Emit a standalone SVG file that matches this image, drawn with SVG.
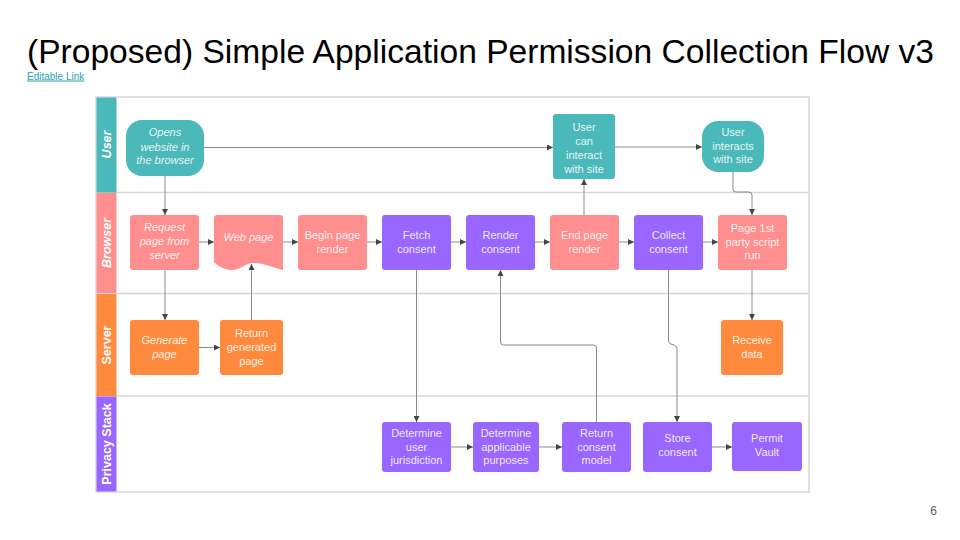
<svg xmlns="http://www.w3.org/2000/svg" width="960" height="540" viewBox="0 0 960 540">
<defs>
<marker id="arr" markerUnits="userSpaceOnUse" markerWidth="7" markerHeight="6" refX="6" refY="3" orient="auto">
<path d="M0,0 L6,3 L0,6 z" fill="#444"/>
</marker>
<style>
.t{font-family:"Liberation Sans",Arial,sans-serif;}
.nt{font-family:"Liberation Sans",Arial,sans-serif;font-size:11px;fill:#ffffff;fill-opacity:0.88;text-anchor:middle;}
.it{font-style:italic;}
.lh{font-family:"Liberation Sans",Arial,sans-serif;font-size:12.5px;font-weight:bold;fill:#ffffff;text-anchor:middle;}
.teal{fill:#4bb9b9;}
.pink{fill:#ff8f8f;}
.orange{fill:#ff8a3d;}
.purple{fill:#9966ff;}
.sep{stroke:#d6d6d6;stroke-width:1.5;fill:none;}
.c{stroke:#8c8c8c;stroke-width:1;fill:none;marker-end:url(#arr);}
</style>
</defs>
<rect width="960" height="540" fill="#ffffff"/>
<text class="t" x="27" y="63" font-size="33.6" fill="#000000">(Proposed) Simple Application Permission Collection Flow v3</text>
<text class="t" x="27" y="79.5" font-size="10" fill="#26a1b5" text-decoration="underline">Editable Link</text>
<text class="t" x="937" y="514.5" font-size="12" fill="#595959" text-anchor="end">6</text>

<g id="lanes">
<rect x="96" y="97" width="713" height="395" fill="none" stroke="#d6d6d6" stroke-width="1.5"/>
<line class="sep" x1="96" y1="192.5" x2="809" y2="192.5"/>
<line class="sep" x1="96" y1="293.5" x2="809" y2="293.5"/>
<line class="sep" x1="96" y1="396" x2="809" y2="396"/>
<g id="lane-user"><rect class="teal" x="96.5" y="97.5" width="20" height="95"/><text class="lh it" transform="translate(110.5,144.5) rotate(-90)">User</text></g>
<g id="lane-browser"><rect class="pink" x="96.5" y="193" width="20" height="100"/><text class="lh it" transform="translate(110.5,243) rotate(-90)">Browser</text></g>
<g id="lane-server"><rect class="orange" x="96.5" y="294" width="20" height="102"/><text class="lh" transform="translate(110.5,345) rotate(-90)">Server</text></g>
<g id="lane-privacy"><rect class="purple" x="96.5" y="396.5" width="20" height="95"/><text class="lh" transform="translate(110.5,444) rotate(-90)">Privacy Stack</text></g>
</g>

<g id="connectors">
<path class="c" d="M204,147.5 H553"/>
<path class="c" d="M615,147 H702"/>
<path class="c" d="M165,176 V215"/>
<path class="c" d="M199,242 H214"/>
<path class="c" d="M283,242 H298"/>
<path class="c" d="M367,242 H382"/>
<path class="c" d="M451,242 H466"/>
<path class="c" d="M535,242 H550"/>
<path class="c" d="M584,215 V179"/>
<path class="c" d="M619,242 H634"/>
<path class="c" d="M703,242 H718"/>
<path class="c" d="M733,172 V189 Q733,192 736,192 H749 Q752,192 752,195 V215"/>
<path class="c" d="M165,270 V320"/>
<path class="c" d="M199,347.5 H220"/>
<path class="c" d="M251.5,320 V264"/>
<path class="c" d="M416.5,270 V422"/>
<path class="c" d="M451,447 H473"/>
<path class="c" d="M539,447 H562"/>
<path class="c" d="M596.5,422 V348 Q596.5,345 593.5,345 H503.5 Q500.5,345 500.5,342 V270"/>
<path class="c" d="M668.5,270 V340 Q668.5,344 672,344.5 Q677,345 677,349 V422"/>
<path class="c" d="M712,447 H732"/>
<path class="c" d="M752,270 V320"/>
</g>

<g id="n-opens"><rect class="teal" x="126" y="120" width="78" height="56" rx="16"/>
<text class="nt it"><tspan x="165" y="136">Opens</tspan><tspan x="165" y="150.5">website in</tspan><tspan x="165" y="164">the browser</tspan></text></g>
<g id="n-user-can"><rect class="teal" x="553" y="114" width="62" height="65" rx="3"/>
<text class="nt"><tspan x="584" y="131">User</tspan><tspan x="584" y="145">can</tspan><tspan x="584" y="159">interact</tspan><tspan x="584" y="172.5">with site</tspan></text></g>
<g id="n-user-interacts"><rect class="teal" x="702" y="121" width="62" height="51" rx="16"/>
<text class="nt"><tspan x="733" y="135.5">User</tspan><tspan x="733" y="149.5">interacts</tspan><tspan x="733" y="163">with site</tspan></text></g>

<g id="n-request"><rect class="pink" x="130" y="215" width="69" height="55" rx="3"/>
<text class="nt it"><tspan x="164.5" y="231">Request</tspan><tspan x="164.5" y="245">page from</tspan><tspan x="164.5" y="259">server</tspan></text></g>
<g id="n-webpage"><path class="pink" d="M214,218 Q214,215 217,215 H280 Q283,215 283,218 V270 C274,268 264,263 254,263 C248,263 246,265 240,268 C232,272 222,270 214,262 Z"/>
<text class="nt it" x="248.5" y="241">Web page</text></g>
<g id="n-begin"><rect class="pink" x="298" y="215" width="69" height="55" rx="3"/>
<text class="nt"><tspan x="332.5" y="239">Begin page</tspan><tspan x="332.5" y="253">render</tspan></text></g>
<g id="n-fetch"><rect class="purple" x="382" y="215" width="69" height="55" rx="3"/>
<text class="nt"><tspan x="416.5" y="239">Fetch</tspan><tspan x="416.5" y="253">consent</tspan></text></g>
<g id="n-render"><rect class="purple" x="466" y="215" width="69" height="55" rx="3"/>
<text class="nt"><tspan x="500.5" y="239">Render</tspan><tspan x="500.5" y="253">consent</tspan></text></g>
<g id="n-end"><rect class="pink" x="550" y="215" width="69" height="55" rx="3"/>
<text class="nt"><tspan x="584.5" y="239">End page</tspan><tspan x="584.5" y="253">render</tspan></text></g>
<g id="n-collect"><rect class="purple" x="634" y="215" width="69" height="55" rx="3"/>
<text class="nt"><tspan x="668.5" y="239">Collect</tspan><tspan x="668.5" y="253">consent</tspan></text></g>
<g id="n-page1st"><rect class="pink" x="718" y="215" width="69" height="55" rx="3"/>
<text class="nt"><tspan x="752.5" y="231.5">Page 1st</tspan><tspan x="752.5" y="245.5">party script</tspan><tspan x="752.5" y="259">run</tspan></text></g>

<g id="n-generate"><rect class="orange" x="130" y="320" width="69" height="55" rx="3"/>
<text class="nt it"><tspan x="164.5" y="344">Generate</tspan><tspan x="164.5" y="357.5">page</tspan></text></g>
<g id="n-return-gen"><rect class="orange" x="220" y="320" width="63" height="55" rx="3"/>
<text class="nt"><tspan x="251.5" y="336.5">Return</tspan><tspan x="251.5" y="351">generated</tspan><tspan x="251.5" y="364.5">page</tspan></text></g>
<g id="n-receive"><rect class="orange" x="721" y="320" width="62" height="55" rx="3"/>
<text class="nt"><tspan x="752" y="344">Receive</tspan><tspan x="752" y="357.5">data</tspan></text></g>

<g id="n-det-user"><rect class="purple" x="382" y="422" width="69" height="50" rx="3"/>
<text class="nt"><tspan x="416.5" y="437">Determine</tspan><tspan x="416.5" y="450.5">user</tspan><tspan x="416.5" y="464">jurisdiction</tspan></text></g>
<g id="n-det-app"><rect class="purple" x="473" y="422" width="66" height="50" rx="3"/>
<text class="nt"><tspan x="506" y="437">Determine</tspan><tspan x="506" y="450.5">applicable</tspan><tspan x="506" y="464">purposes</tspan></text></g>
<g id="n-return-consent"><rect class="purple" x="562" y="422" width="69" height="50" rx="3"/>
<text class="nt"><tspan x="596.5" y="437">Return</tspan><tspan x="596.5" y="450.5">consent</tspan><tspan x="596.5" y="464">model</tspan></text></g>
<g id="n-store"><rect class="purple" x="643" y="422" width="69" height="50" rx="3"/>
<text class="nt"><tspan x="677.5" y="442">Store</tspan><tspan x="677.5" y="456">consent</tspan></text></g>
<g id="n-permit"><rect class="purple" x="732" y="422" width="70" height="49" rx="3"/>
<text class="nt"><tspan x="767" y="442">Permit</tspan><tspan x="767" y="456">Vault</tspan></text></g>
</svg>
